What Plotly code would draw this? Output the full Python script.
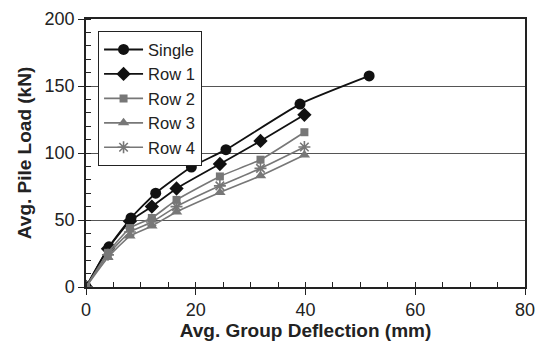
import plotly.graph_objects as go

# Load-deflection curves (deflection in mm, load in kN)
single_x = [0, 4.2, 8.2, 12.7, 19.2, 25.5, 39.0, 51.6]
single_y = [0, 30, 51.5, 70, 89.5, 102.5, 136.5, 157.5]

row_x = [0, 4.0, 8.0, 12.0, 16.5, 24.4, 31.8, 39.8]
row1_y = [0, 28.5, 49, 60, 73.5, 91.8, 109, 128.5]
row2_y = [0, 25.5, 44, 51.5, 65, 82.5, 95, 115.5]
row3_y = [0, 22, 38, 45.5, 56, 70.5, 83, 98.5]
row4_y = [0, 24, 41, 48.5, 60, 75.5, 88.5, 104.5]

x_ticks = [0, 20, 40, 60, 80]
y_ticks = [0, 50, 100, 150, 200]

BLACK = "#111111"
GREY = "#777777"
FONT = "Liberation Sans, Arial, sans-serif"

series = [
    ("Single", single_x, single_y, "circle", 11, BLACK, 1.8),
    ("Row 1", row_x, row1_y, "diamond", 11, BLACK, 1.8),
    ("Row 2", row_x, row2_y, "square", 8, GREY, 1.6),
    ("Row 3", row_x, row3_y, "triangle-up", 10, GREY, 1.6),
    ("Row 4", row_x, row4_y, "asterisk-open", 10, GREY, 1.6),
]

fig = go.Figure()
for name, xs, ys, sym, size, color, lw in series:
    marker = dict(symbol=sym, size=size, color=color)
    if sym.endswith("open"):
        marker["line"] = dict(color=color, width=1.6)
    fig.add_trace(go.Scatter(
        x=xs, y=ys, name=name, mode="lines+markers",
        line=dict(color=color, width=lw, shape="spline", smoothing=0.5),
        marker=marker,
    ))

axis_common = dict(
    showline=True, linecolor="#222222", linewidth=1.5, mirror=True,
    ticks="outside", ticklen=6, tickwidth=1.2, tickcolor="#222222",
    tickfont=dict(family=FONT, size=18, color="#222222"),
    zeroline=False, automargin=False,
)

fig.update_xaxes(
    range=[0, 80], tickvals=x_ticks, showgrid=False,
    minor=dict(ticks="inside", ticklen=5, tickwidth=1.2, tickcolor="#222222", dtick=5, showgrid=False),
    title=dict(text="<b>Avg. Group Deflection (mm)</b>", font=dict(family=FONT, size=19, color="#222222"), standoff=4),
    **axis_common,
)
fig.update_yaxes(
    range=[0, 200], tickvals=y_ticks, showgrid=True, gridcolor="#555555", gridwidth=1,
    minor=dict(ticks="inside", ticklen=5, tickwidth=1.2, tickcolor="#222222", dtick=10, showgrid=False),
    title=dict(text="<b>Avg. Pile Load (kN)</b>", font=dict(family=FONT, size=19, color="#222222"), standoff=8),
    **axis_common,
)

fig.update_layout(
    width=538, height=348,
    margin=dict(l=86, r=13, t=19, b=61),
    plot_bgcolor="white", paper_bgcolor="white",
    font=dict(family=FONT, size=18, color="#222222"),
    legend=dict(
        x=0.027, y=0.955, xanchor="left", yanchor="top",
        bgcolor="white", bordercolor="#222222", borderwidth=1.2,
        font=dict(family=FONT, size=16.5, color="#222222"),
        itemwidth=39,
    ),
    showlegend=True,
)

fig.write_html("out.html")
